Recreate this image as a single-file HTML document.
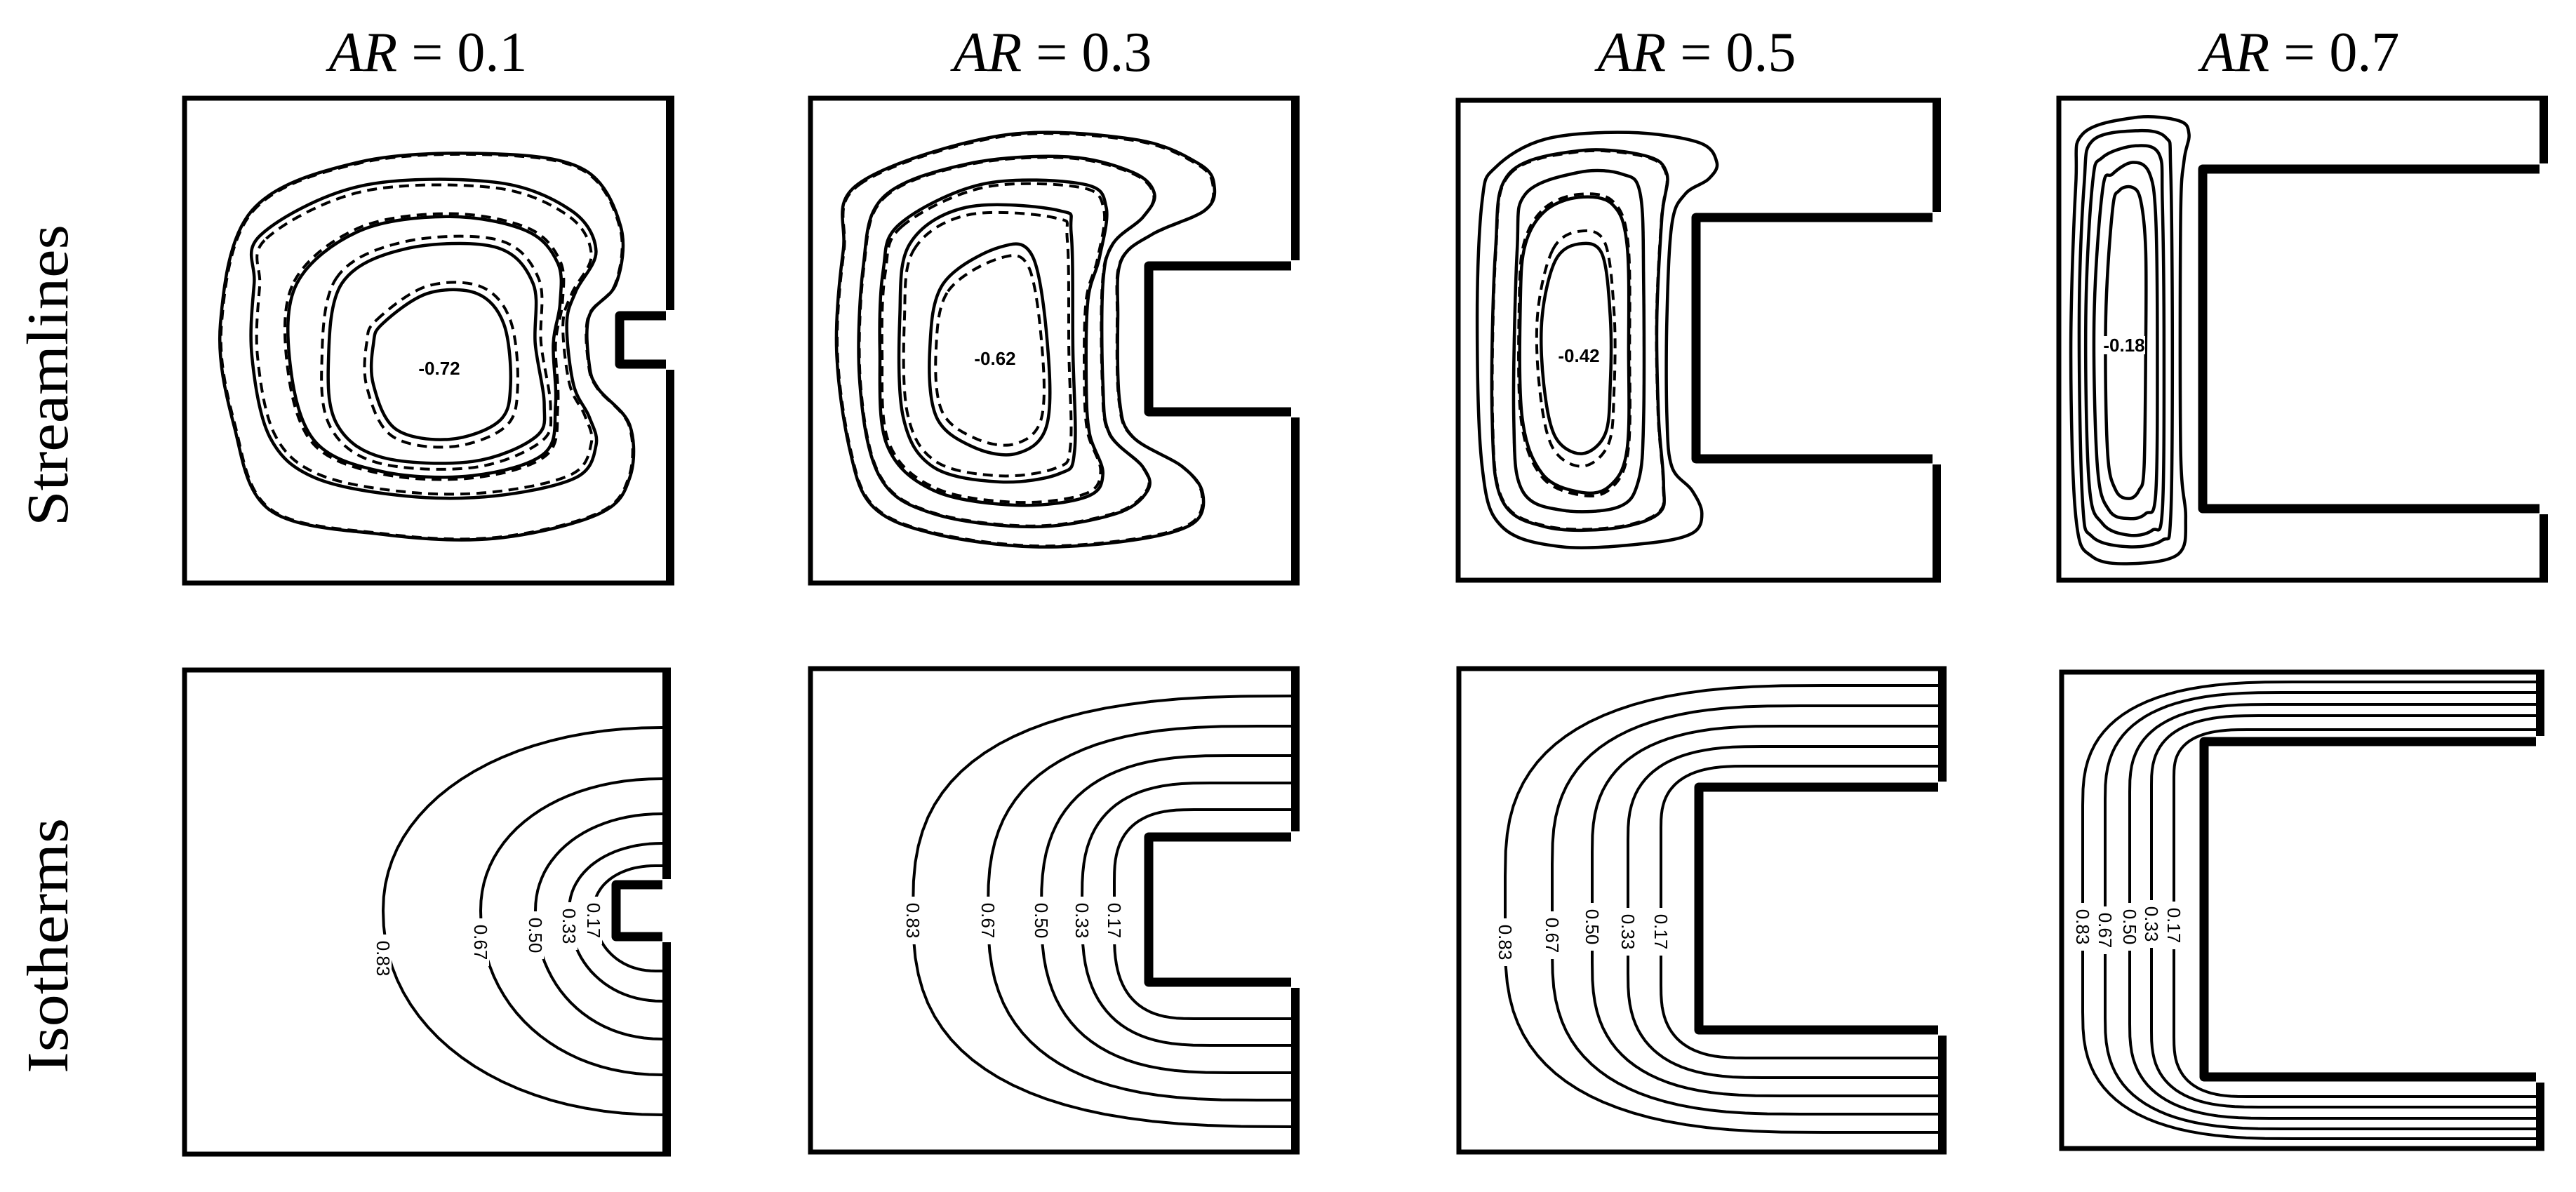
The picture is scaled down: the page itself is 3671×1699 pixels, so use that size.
<!DOCTYPE html>
<html><head><meta charset="utf-8"><style>
html,body{margin:0;padding:0;background:#fff;}
svg{display:block;}
.t{font-family:"Liberation Serif",serif;font-size:80px;fill:#000;}
.r{font-family:"Liberation Serif",serif;font-size:84px;fill:#000;}
.lb{font-family:"Liberation Sans",sans-serif;font-size:26px;fill:#000;}
.sl{font-family:"Liberation Sans",sans-serif;font-size:26px;font-weight:bold;fill:#000;}
</style></head><body>
<svg id="s" width="3671" height="1699" viewBox="0 0 3671 1699" xmlns="http://www.w3.org/2000/svg">
<rect width="3671" height="1699" fill="#fff"/>
<g id="g"></g>
<text class="t" x="610" y="101" text-anchor="middle"><tspan font-style="italic">AR</tspan> = 0.1</text>
<text class="t" x="1500" y="101" text-anchor="middle"><tspan font-style="italic">AR</tspan> = 0.3</text>
<text class="t" x="2418" y="101" text-anchor="middle"><tspan font-style="italic">AR</tspan> = 0.5</text>
<text class="t" x="3278" y="101" text-anchor="middle"><tspan font-style="italic">AR</tspan> = 0.7</text>
<text class="r" transform="translate(96,535) rotate(-90)" text-anchor="middle" textLength="430" lengthAdjust="spacingAndGlyphs">Streamlines</text>
<text class="r" transform="translate(96,1348) rotate(-90)" text-anchor="middle" textLength="364" lengthAdjust="spacingAndGlyphs">Isotherms</text>
<g id="lab">
<rect x="598" y="512" width="56" height="26" fill="#fff"/><text class="sl" x="626" y="534" text-anchor="middle">-0.72</text>
<rect x="1388" y="498" width="60" height="26" fill="#fff"/><text class="sl" x="1418" y="520" text-anchor="middle">-0.62</text>
<rect x="2220" y="494" width="60" height="26" fill="#fff"/><text class="sl" x="2250" y="516" text-anchor="middle">-0.42</text>
<rect x="2997" y="479" width="60" height="26" fill="#fff"/><text class="sl" x="3027" y="501" text-anchor="middle">-0.18</text>
</g>
<g id="iso"></g>
</svg>
<script>
var NS="http://www.w3.org/2000/svg";
var G=document.getElementById("g");
function el(t,a,p){var e=document.createElementNS(NS,t);for(var k in a)e.setAttribute(k,a[k]);(p||G).appendChild(e);return e;}
function cr(p){var n=p.length,d="M"+p[0][0].toFixed(1)+","+p[0][1].toFixed(1);
for(var i=0;i<n;i++){var p0=p[(i-1+n)%n],p1=p[i],p2=p[(i+1)%n],p3=p[(i+2)%n];
var c1=[p1[0]+(p2[0]-p0[0])/6,p1[1]+(p2[1]-p0[1])/6],c2=[p2[0]-(p3[0]-p1[0])/6,p2[1]-(p3[1]-p1[1])/6];
d+=" C"+c1[0].toFixed(1)+","+c1[1].toFixed(1)+" "+c2[0].toFixed(1)+","+c2[1].toFixed(1)+" "+p2[0].toFixed(1)+","+p2[1].toFixed(1);}
return d+"Z";}
function frame(L,T,R,B,fl,ft,fb){
 el("path",{d:"M"+R+","+T+" L"+L+","+T+" L"+L+","+B+" L"+R+","+B,fill:"none",stroke:"#000","stroke-width":7,"stroke-linejoin":"miter"});
 el("line",{x1:R,y1:T-3.5,x2:R,y2:ft-8,stroke:"#000","stroke-width":12});
 el("line",{x1:R,y1:fb+8,x2:R,y2:B+3.5,stroke:"#000","stroke-width":12});
 el("path",{d:"M"+(R-6)+","+ft+" L"+fl+","+ft+" L"+fl+","+fb+" L"+(R-6)+","+fb,fill:"none",stroke:"#000","stroke-width":13,"stroke-linejoin":"round"});
 el("circle",{cx:R+3,cy:ft,r:8,fill:"#fff"});el("circle",{cx:R+3,cy:fb,r:8,fill:"#fff"});
}
frame(263,140,955,831,883,450,519);
frame(1155,140,1846,831,1637,379,587);
frame(2078,143,2760,827,2417,310,654);
frame(2934,140,3625,827,3139,241,725);
frame(263,955,950,1645,878,1261,1335);
frame(1155,953,1846,1642,1637,1193,1400);
frame(2079,953,2768,1642,2421,1122,1468);
frame(2938,958,3620,1637,3141,1057,1535);
var P=[
 {f:function(p){return [p[0]/1.56,p[1]/1.733];},ds:[0.995,0.97,1.02,1.06,1.1],c:[
 [[560,520],[800,400],[1100,380],[1300,420],[1380,560],[1370,700],[1310,780],[1310,900],[1330,960],[1400,1050],[1400,1180],[1330,1270],[1100,1330],[850,1320],[600,1260],[520,1050],[490,800]],
 [[580,580],[800,460],[1100,450],[1270,520],[1325,620],[1280,720],[1260,800],[1275,950],[1310,1030],[1325,1100],[1280,1180],[1100,1225],[900,1225],[700,1180],[600,1080],[560,880],[565,700]],
 [[660,700],[800,570],[1000,535],[1170,570],[1240,650],[1245,750],[1230,850],[1235,1000],[1210,1120],[1050,1175],[850,1165],[700,1090],[645,900]],
 [[760,700],[900,615],[1100,610],[1185,700],[1190,850],[1210,1000],[1190,1080],[1050,1140],[850,1130],[750,1050],[730,900]],
 [[850,800],[950,725],[1060,725],[1120,800],[1135,950],[1110,1040],[1000,1085],[880,1060],[830,950],[830,850]]]},
 {f:function(p){return [1140+p[0]/2.108,120+p[1]/2.108];},ds:[0.995,0.995,0.98,0.95,0.9],c:[
 [[175,300],[600,155],[1000,165],[1200,240],[1245,310],[1215,380],[1060,450],[965,530],[955,700],[960,950],[1000,1060],[1150,1150],[1210,1230],[1180,1320],[1000,1370],[700,1390],[400,1350],[220,1270],[150,1100],[110,800],[130,500]],
 [[250,340],[500,240],[800,218],[1000,265],[1065,330],[1030,400],[940,480],[910,600],[910,900],[930,1050],[1030,1150],[1045,1220],[950,1290],[700,1330],[400,1290],[240,1180],[180,900],[190,550]],
 [[300,420],[550,300],[850,300],[920,370],[900,520],[865,650],[860,900],[870,1050],[910,1170],[860,1240],[650,1265],[400,1220],[260,1080],[240,800],[250,560]],
 [[330,480],[500,370],[780,380],[815,450],[820,800],[825,1100],[780,1170],[600,1195],[400,1150],[310,1000],[300,700]],
 [[430,600],[600,490],[700,520],[745,800],[740,1030],[650,1110],[520,1090],[410,1000],[390,800]]]},
 {f:function(p){return [2060+p[0]/2.108,120+p[1]/2.108];},ds:[0,0.995,1.0,1.02,1.12],c:[
 [[150,250],[300,165],[550,145],[760,175],[815,235],[790,285],[720,330],[680,420],[665,700],[665,1000],[680,1150],[740,1220],[770,1290],[740,1350],[600,1380],[350,1390],[170,1330],[110,1150],[95,700],[110,350]],
 [[190,270],[400,200],[600,215],[665,270],[650,400],[635,700],[640,1000],[655,1200],[640,1290],[500,1335],[300,1330],[170,1250],[140,1000],[150,500]],
 [[240,330],[400,265],[530,270],[585,330],[595,600],[595,1000],[580,1190],[520,1270],[350,1280],[230,1220],[205,1000],[215,500]],
 [[300,380],[400,340],[500,360],[545,480],[550,800],[545,1100],[490,1210],[400,1225],[290,1170],[230,1000],[225,650],[240,480]],
 [[330,530],[400,480],[470,510],[495,700],[495,900],[480,1050],[410,1110],[330,1060],[295,900],[290,700]]]},
 {f:function(p){return [2925+p[0]/2.108,120+p[1]/2.108];},ds:[0,0,0,0,0],c:[
 [[90,150],[250,100],[380,110],[410,150],[395,230],[385,400],[385,1100],[400,1300],[380,1410],[250,1440],[120,1420],[70,1300],[55,800],[70,300]],
 [[120,170],[250,140],[340,160],[355,260],[360,800],[355,1300],[330,1370],[230,1390],[120,1360],[90,1250],[80,700],[95,300]],
 [[150,220],[250,185],[320,210],[330,350],[335,800],[330,1280],[300,1340],[230,1355],[150,1320],[110,1200],[100,700],[120,300]],
 [[180,270],[240,235],[290,265],[310,400],[315,800],[310,1230],[280,1290],[230,1305],[170,1280],[135,1150],[125,700],[150,320]],
 [[200,320],[240,310],[265,350],[280,500],[280,800],[275,1150],[260,1220],[230,1245],[190,1220],[165,1100],[160,700],[180,380]]]}
];
P.forEach(function(pn){
 var cs=pn.c.map(function(c){return c.map(pn.f);});
 var inner=cs[4],cx=0,cy=0;inner.forEach(function(p){cx+=p[0];cy+=p[1];});cx/=inner.length;cy/=inner.length;
 cs.forEach(function(c,i){
  el("path",{d:cr(c),fill:"none",stroke:"#000","stroke-width":4.5});
  var s=pn.ds[i];
  if(s>0){var dc=c.map(function(p){return [cx+(p[0]-cx)*s,cy+(p[1]-cy)*s];});
   el("path",{d:cr(dc),fill:"none",stroke:"#000","stroke-width":4,"stroke-dasharray":"14 9"});}
 });
});
var ISO=document.getElementById("iso");
var labs=["0.83","0.67","0.50","0.33","0.17"];
var I=[
 {n:2.1,R:950,fl:878,ft:1261,fb:1335,xl:[546,685,763,811,846],yt:[1037,1110,1160,1202,1234],yb:[1589,1532,1481,1427,1384],ly:[1366,1343,1333,1320,1312]},
 {n:2.7,R:1846,fl:1637,ft:1193,fb:1400,xl:[1301,1408,1484,1542,1588],yt:[992,1035,1077,1116,1154],yb:[1606,1568,1529,1490,1452],ly:[1312,1312,1312,1312,1312]},
 {n:2.7,R:2768,fl:2421,ft:1122,fb:1468,xl:[2145,2212,2269,2320,2367],yt:[977,1006,1035,1064,1092],yb:[1614,1588,1562,1536,1508],ly:[1343,1333,1321,1328,1328]},
 {n:2.7,R:3620,fl:3141,ft:1057,fb:1535,xl:[2968,3000,3035,3066,3098],yt:[972,987,1004,1020,1040],yb:[1623,1609,1594,1578,1563],ly:[1321,1326,1321,1317,1319]}
];
function corner(cx,cy,rx,ry,sy,rev,n){var pts=[];for(var k=0;k<=24;k++){var t=k/24*Math.PI/2;
 var c=Math.pow(Math.cos(t),2/n),s=Math.pow(Math.sin(t),2/n);pts.push([cx-rx*c,cy+sy*ry*s]);}
 if(rev)pts.reverse();return pts;}
I.forEach(function(p){
 var yc=(p.ft+p.fb)/2;
 for(var i=0;i<5;i++){
  var xl=p.xl[i],yt=p.yt[i],yb=p.yb[i],R=p.R-6;
  var rx=Math.min(R-xl,1.5*(p.fl-xl)+40);
  var ryt=Math.min(yc-yt,1.6*(p.ft-yt)+40),ryb=Math.min(yb-yc,1.6*(yb-p.fb)+40);
  var pts=[[R,yt]];
  pts=pts.concat(corner(xl+rx,yt+ryt,rx,ryt,-1,true,p.n));
  pts=pts.concat(corner(xl+rx,yb-ryb,rx,ryb,1,false,p.n));
  pts.push([R,yb]);
  var d="M"+pts.map(function(q){return q[0].toFixed(1)+","+q[1].toFixed(1);}).join(" L");
  el("path",{d:d,fill:"none",stroke:"#000","stroke-width":4,"stroke-linejoin":"round"},ISO);
  el("rect",{x:xl-12,y:p.ly[i]-34,width:24,height:68,fill:"#fff"},ISO);
  var t=el("text",{"class":"lb",transform:"translate("+xl+","+p.ly[i]+") rotate(90)","text-anchor":"middle",y:9},ISO);
  t.textContent=labs[i];
 }
});
</script>
</body></html>
